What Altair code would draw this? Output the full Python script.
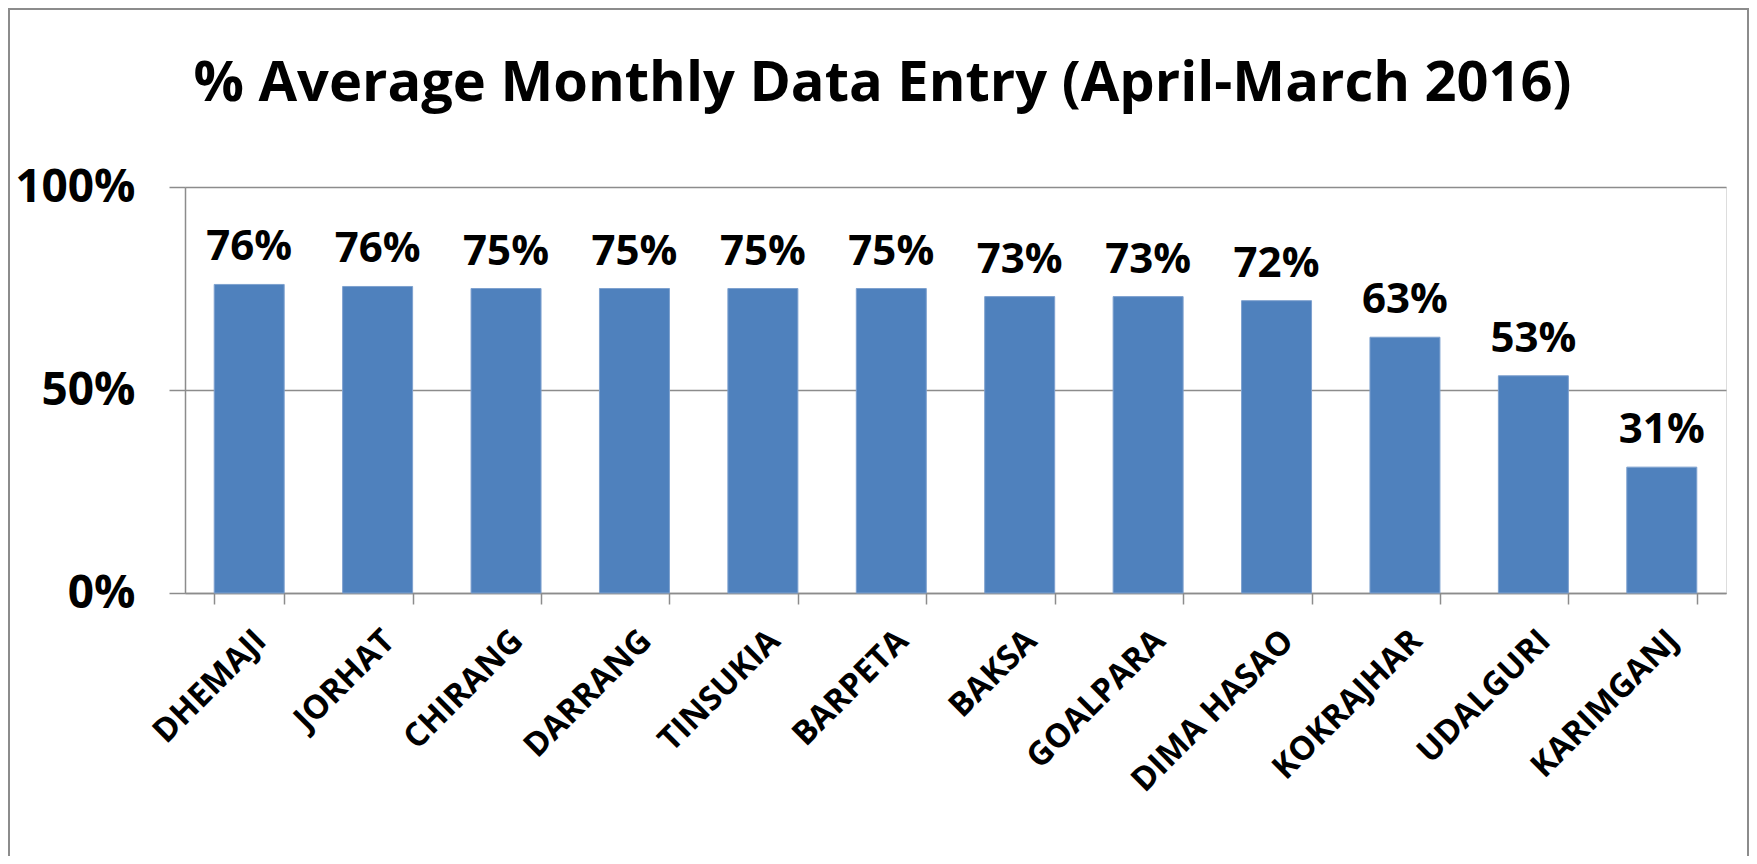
import altair as alt
import pandas as pd

districts = ["DHEMAJI", "JORHAT", "CHIRANG", "DARRANG", "TINSUKIA", "BARPETA",
             "BAKSA", "GOALPARA", "DIMA HASAO", "KOKRAJHAR", "UDALGURI", "KARIMGANJ"]
values = [0.76, 0.755, 0.75, 0.75, 0.75, 0.75, 0.73, 0.73, 0.72, 0.63, 0.535, 0.31]
labels = ["76%", "76%", "75%", "75%", "75%", "75%", "73%", "73%", "72%", "63%", "53%", "31%"]
y_ticks = [0, 0.5, 1.0]

df = pd.DataFrame({"district": districts, "value": values, "label": labels})

GRAY = "#8c8c8c"
BLUE = "#4F81BD"

x_enc = alt.X("district:N", sort=districts, title=None,
              scale=alt.Scale(paddingInner=0.455, paddingOuter=0.2275),
              axis=alt.Axis(labelAngle=-45, labelAlign="right", labelBaseline="top",
                            labelFont="Open Sans", labelFontWeight="bold", labelFontSize=33,
                            labelColor="#000000", labelPadding=20, labelLimit=0,
                            tickBand="extent", ticks=True, tickSize=11, tickColor=GRAY,
                            tickWidth=1.5, domainColor=GRAY, domainWidth=1.5, grid=False))
y_enc = alt.Y("value:Q", title=None,
              scale=alt.Scale(domain=[0, 1], nice=False),
              axis=alt.Axis(values=y_ticks, format=".0%", labelFont="Open Sans",
                            labelFontWeight="bold", labelFontSize=46, labelColor="#000000",
                            labelPadding=34, tickSize=16, tickColor=GRAY, tickWidth=1.5,
                            domainColor=GRAY, domainWidth=1.5, grid=True, gridColor=GRAY,
                            gridWidth=1.5))

bars = alt.Chart(df).mark_bar(color=BLUE, stroke="#7ea1cf", strokeWidth=1).encode(x=x_enc, y=y_enc)

texts = alt.Chart(df).mark_text(font="Open Sans", fontWeight="bold", fontSize=42,
                                 color="#000000", baseline="alphabetic", dy=-24).encode(
    x=alt.X("district:N", sort=districts), y="value:Q", text="label:N")

frame_data = alt.Data(values=[{}])
left_line = alt.Chart(frame_data).mark_rule(color=GRAY, strokeWidth=2).encode(
    x=alt.value(-176), y=alt.value(-178), y2=alt.value(700))
top_line = alt.Chart(frame_data).mark_rule(color=GRAY, strokeWidth=2).encode(
    x=alt.value(-177), x2=alt.value(1564), y=alt.value(-178))
right_line = alt.Chart(frame_data).mark_rule(color=GRAY, strokeWidth=2).encode(
    x=alt.value(1563), y=alt.value(-178), y2=alt.value(700))

chart = alt.layer(bars, texts, left_line, top_line, right_line).properties(
    width=1541, height=406,
    title=alt.TitleParams("% Average Monthly Data Entry (April-March 2016)",
                          anchor="middle", font="Open Sans",
                          fontWeight="bold", fontSize=56, color="#000000",
                          baseline="alphabetic", offset=-149, dx=-73),
    padding={"left": 177, "top": 179, "right": 23, "bottom": 263},
    autosize=alt.AutoSizeParams(type="none"),
).configure_view(stroke=None).configure(background="#ffffff")

chart.save("out.html", embed_options={"renderer": "svg", "actions": False})
